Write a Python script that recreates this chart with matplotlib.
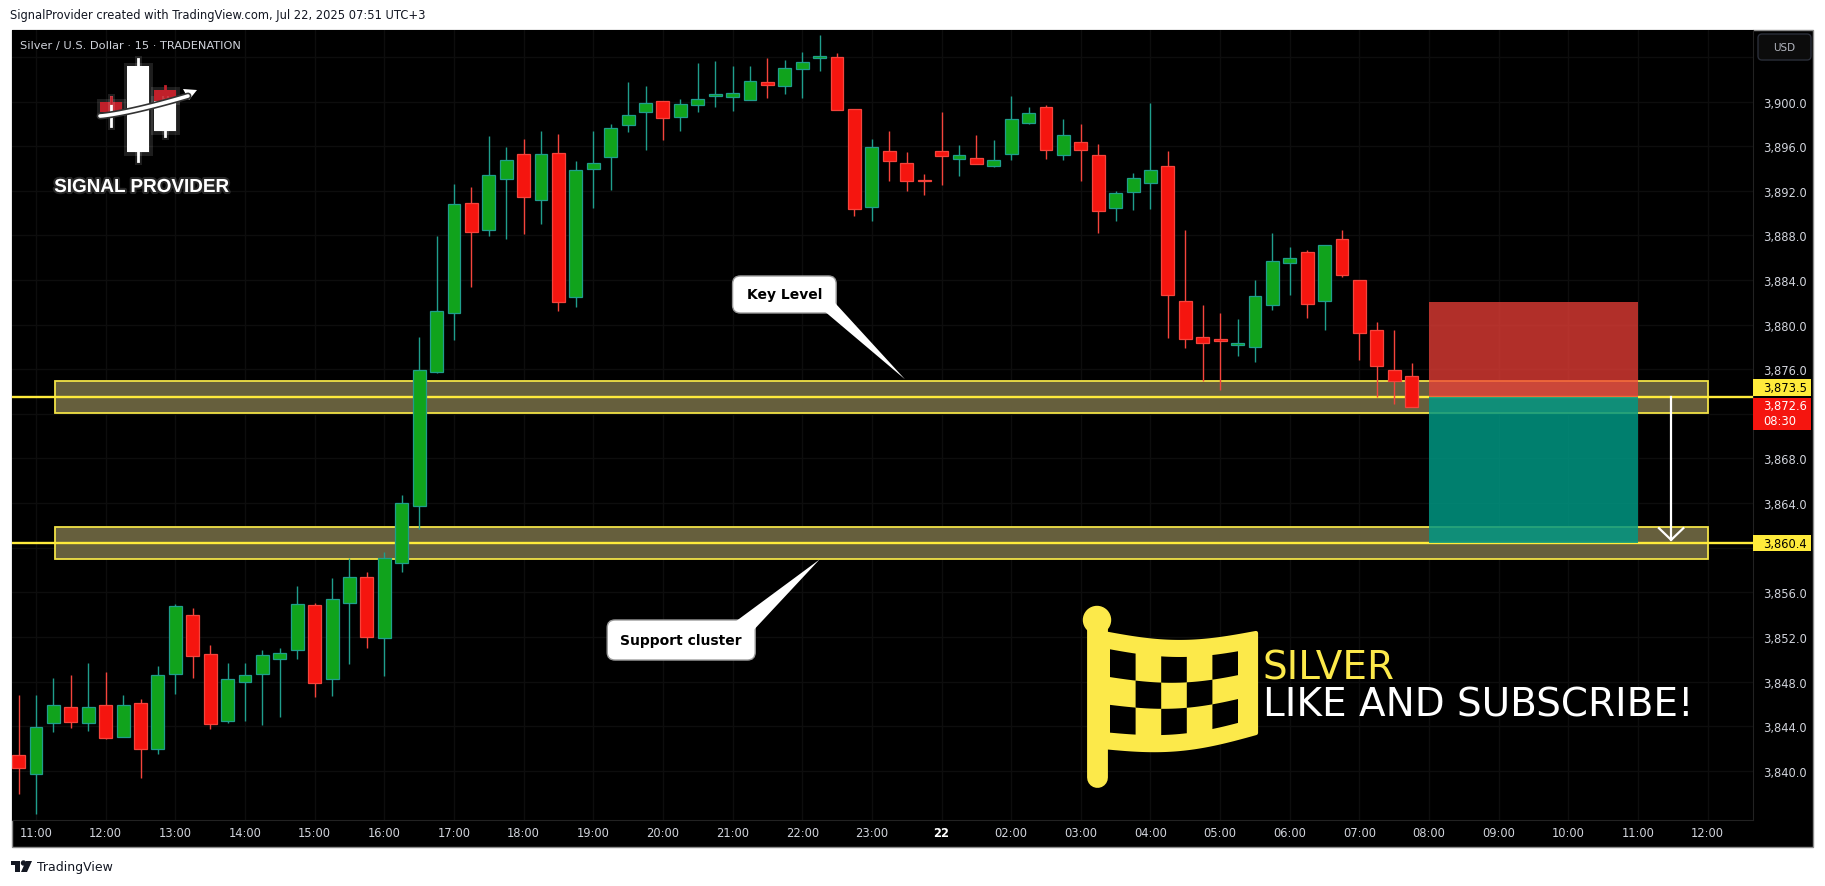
import numpy as np
import matplotlib
matplotlib.use("Agg")
import matplotlib.pyplot as plt
import matplotlib.patheffects as pe
import matplotlib.transforms as mtransforms
from matplotlib.patches import Rectangle, FancyBboxPatch, Polygon, Circle
from matplotlib.ticker import FixedLocator, FuncFormatter

plt.rcParams['font.family'] = ['DejaVu Sans']

# XAG/USD 15 min candles, 10:45 (Jul 21) -> 07:45 (Jul 22)
opens = [3841.45, 3839.67, 3844.29, 3845.73, 3844.29, 3845.92, 3843.07, 3846.08, 3841.98, 3848.67,
         3853.93, 3850.45, 3844.45, 3847.95, 3848.67, 3850.02, 3850.83, 3854.83, 3848.23, 3855.08,
         3857.33, 3851.89, 3858.65, 3863.74, 3875.79, 3881.00, 3890.86, 3888.48, 3893.02, 3895.25,
         3891.15, 3895.41, 3882.50, 3893.91, 3895.06, 3897.89, 3899.03, 3900.05, 3898.62, 3899.67,
         3900.50, 3900.43, 3900.14, 3901.74, 3901.39, 3902.91, 3903.87, 3903.96, 3899.30, 3890.51,
         3895.53, 3894.46, 3893.00, 3895.53, 3894.88, 3894.91, 3894.19, 3895.26, 3898.10, 3899.48,
         3895.17, 3896.34, 3895.17, 3890.42, 3891.92, 3892.66, 3894.22, 3882.09, 3878.86, 3878.68,
         3878.20, 3877.96, 3881.73, 3885.49, 3886.48, 3882.09, 3887.64, 3883.97, 3879.49, 3875.90,
         3875.36]
highs = [3846.80, 3846.80, 3848.36, 3848.61, 3849.67, 3848.89, 3846.80, 3846.48, 3849.42, 3854.93,
         3854.58, 3851.30, 3849.67, 3849.67, 3850.80, 3851.02, 3856.61, 3855.08, 3857.27, 3859.12,
         3857.80, 3859.59, 3864.74, 3878.85, 3887.97, 3892.61, 3892.32, 3896.87, 3895.88, 3896.68,
         3897.32, 3897.06, 3894.71, 3897.32, 3897.98, 3901.77, 3901.39, 3900.05, 3900.24, 3903.42,
         3903.61, 3903.17, 3903.17, 3903.90, 3903.74, 3904.44, 3905.96, 3904.35, 3899.30, 3896.64,
         3897.36, 3895.44, 3893.47, 3899.03, 3896.10, 3897.00, 3896.55, 3900.49, 3899.51, 3899.69,
         3898.43, 3897.95, 3896.16, 3891.95, 3893.59, 3899.87, 3895.56, 3888.48, 3881.76, 3881.04,
         3880.50, 3884.00, 3888.21, 3886.93, 3886.69, 3887.11, 3888.48, 3884.00, 3880.20, 3879.52,
         3876.56]
lows = [3837.95, 3836.16, 3843.45, 3843.83, 3843.58, 3842.86, 3843.00, 3839.38, 3841.48, 3846.86,
        3848.30, 3843.73, 3844.29, 3844.45, 3844.11, 3844.83, 3849.99, 3846.61, 3846.67, 3849.55,
        3851.02, 3848.52, 3857.83, 3861.65, 3875.70, 3878.65, 3883.36, 3887.97, 3887.65, 3888.09,
        3888.98, 3881.23, 3881.58, 3890.48, 3892.10, 3897.25, 3895.66, 3896.55, 3897.35, 3899.03,
        3899.48, 3899.16, 3900.10, 3900.27, 3900.65, 3900.27, 3902.76, 3899.20, 3889.77, 3889.32,
        3892.90, 3892.01, 3891.65, 3892.54, 3893.35, 3894.40, 3894.10, 3894.79, 3897.98, 3894.88,
        3894.79, 3892.90, 3888.24, 3889.32, 3890.30, 3890.33, 3878.83, 3877.93, 3874.97, 3874.17,
        3877.21, 3876.68, 3881.34, 3882.68, 3880.62, 3879.55, 3884.30, 3876.86, 3873.54, 3872.91,
        3872.58]
closes = [3840.29, 3843.95, 3845.92, 3844.39, 3845.73, 3842.98, 3845.92, 3841.92, 3848.58, 3854.74,
          3850.30, 3844.23, 3848.27, 3848.58, 3850.36, 3850.55, 3854.99, 3847.89, 3855.36, 3857.40,
          3851.99, 3859.12, 3863.99, 3875.94, 3881.26, 3890.80, 3888.29, 3893.37, 3894.80, 3891.40,
          3895.31, 3881.99, 3893.82, 3894.45, 3897.63, 3898.81, 3899.86, 3898.52, 3899.76, 3900.24,
          3900.65, 3900.75, 3901.83, 3901.45, 3902.98, 3903.52, 3904.05, 3899.24, 3890.33, 3895.89,
          3894.64, 3892.84, 3892.85, 3895.14, 3895.17, 3894.43, 3894.73, 3898.40, 3898.94, 3895.62,
          3896.97, 3895.62, 3890.21, 3891.77, 3893.11, 3893.83, 3882.68, 3878.68, 3878.32, 3878.50,
          3878.25, 3882.53, 3885.67, 3885.94, 3881.82, 3887.11, 3884.48, 3879.22, 3876.26, 3874.97,
          3872.60]

time_ticks = [1, 5, 9, 13, 17, 21, 25, 29, 33, 37, 41, 45, 49, 53, 57, 61, 65, 69, 73, 77, 81, 85, 89, 93, 97]
time_labels = ["11:00", "12:00", "13:00", "14:00", "15:00", "16:00", "17:00", "18:00", "19:00",
               "20:00", "21:00", "22:00", "23:00", "22", "02:00", "03:00", "04:00", "05:00",
               "06:00", "07:00", "08:00", "09:00", "10:00", "11:00", "12:00"]
price_ticks = list(range(3840, 3908, 4))
hidden_price_ticks = [3860, 3872, 3904]

key_level = 3873.5
support_level = 3860.4
band_half = 1.43
band_start, band_end = 2.1, 97.0
last_price = 3872.6
countdown = "08:30"
stop_level = 3882.0
tool_start, tool_end = 81.0, 93.0
arrow_bar = 94.9

W, H = 1825, 887
YELLOW = '#ffeb3b'
GREEN, GREEN_EDGE = '#10a31c', '#1f9e8c'
RED, RED_EDGE = '#f5150f', '#f5443c'
LABEL = '#d1d4dc'


def fig_rect(x0, y0, x1, y1):
    return [x0 / W, 1 - y1 / H, (x1 - x0) / W, (y1 - y0) / H]


fig = plt.figure(figsize=(W / 100, H / 100), dpi=100)
fig.patch.set_facecolor('white')

# black chart panel
panel = Rectangle((12 / W, 1 - 848 / H), (1813 - 12) / W, (848 - 31) / H, transform=fig.transFigure,
                  facecolor='black', edgecolor='#8c8c8c', lw=1, zorder=-1)
fig.add_artist(panel)

ax = fig.add_axes(fig_rect(12, 31, 1753, 821))
ax.set_facecolor('black')

x = np.arange(len(opens))
o = np.array(opens)
c = np.array(closes)
up = c >= o
body_col = np.where(up, GREEN, RED)
edge_col = np.where(up, GREEN_EDGE, RED_EDGE)
heights = np.maximum(np.abs(c - o), 0.12)
bottoms = np.minimum(o, c)

ax.vlines(x, lows, highs, colors=edge_col, lw=1, zorder=4)
ax.bar(x, heights, bottom=bottoms, width=0.74, color=body_col, edgecolor=edge_col, linewidth=0.9, zorder=5)

# zones
for lvl in (key_level, support_level):
    ax.add_patch(Rectangle((band_start, lvl - band_half), band_end - band_start, 2 * band_half,
                           facecolor='#665f3d', edgecolor='#f2e246', lw=1.3, zorder=2))
    ax.axhline(lvl, color=YELLOW, lw=1.7, zorder=3)

# short position tool
ax.add_patch(Rectangle((tool_start, key_level), tool_end - tool_start, stop_level - key_level,
                       facecolor='#ef4038', alpha=0.745, lw=0, zorder=6))
ax.add_patch(Rectangle((tool_start, support_level), tool_end - tool_start, key_level - support_level,
                       facecolor='#009884', alpha=0.84, lw=0, zorder=6))

# arrow down to target
ax.plot([arrow_bar, arrow_bar], [key_level, support_level + 0.3], color='white', lw=1.6, zorder=7)
ax.plot([arrow_bar - 0.7, arrow_bar, arrow_bar + 0.7],
        [support_level + 1.35, support_level + 0.3, support_level + 1.35], color='white', lw=1.6, zorder=7)

# callouts
aspect = 1.56
ax.add_patch(FancyBboxPatch((41.0, 3881.04), 5.95, 3.32, boxstyle="round,pad=0,rounding_size=0.45",
                            mutation_aspect=aspect, facecolor='white', edgecolor='#9a9a9a', lw=1, zorder=8))
ax.add_patch(Polygon([(46.2, 3881.3), (46.85, 3882.0), (50.9, 3875.1)], closed=True,
                     facecolor='white', edgecolor='none', zorder=8.5))
ax.text(43.98, 3882.7, "Key Level", ha='center', va='center', fontsize=10, fontweight='bold',
        color='black', zorder=9)

ax.add_patch(FancyBboxPatch((33.8, 3849.93), 8.5, 3.59, boxstyle="round,pad=0,rounding_size=0.45",
                            mutation_aspect=aspect, facecolor='white', edgecolor='#9a9a9a', lw=1, zorder=8))
ax.add_patch(Polygon([(41.1, 3853.3), (42.2, 3852.6), (46.0, 3858.95)], closed=True,
                     facecolor='white', edgecolor='none', zorder=8.5))
ax.text(38.05, 3851.72, "Support cluster", ha='center', va='center', fontsize=10, fontweight='bold',
        color='black', zorder=9)

ax.set_xlim(-0.38, 99.6)
ax.set_ylim(3835.59, 3906.41)

ax.xaxis.set_major_locator(FixedLocator(time_ticks))
ax.set_xticklabels(time_labels)
ax.yaxis.set_major_locator(FixedLocator(price_ticks))
ax.yaxis.set_major_formatter(FuncFormatter(
    lambda v, p: "" if round(v) in hidden_price_ticks else "{:,.1f}".format(v)))
ax.yaxis.tick_right()
ax.tick_params(axis='y', length=0, pad=7.2, labelsize=8.3, labelcolor=LABEL)
ax.tick_params(axis='x', length=0, pad=4.5, labelsize=8.3, labelcolor=LABEL)
for lbl in ax.get_xticklabels():
    if lbl.get_text() == "22":
        lbl.set_fontweight('bold')
        lbl.set_color('white')
ax.grid(True, color='#0d0d0d', lw=1, zorder=0)
for side in ('top', 'left'):
    ax.spines[side].set_visible(False)
for side in ('right', 'bottom'):
    ax.spines[side].set_color('#222222')

# price labels on the axis
trans = mtransforms.blended_transform_factory(ax.transAxes, ax.transData)
bw = 58 / 1741
tx = (1763 - 12) / 1741
ax.add_patch(Rectangle((1.0, 3873.6), bw, 1.52, transform=trans, clip_on=False, facecolor=YELLOW, zorder=10))
ax.text(tx, 3874.36, "{:,.1f}".format(key_level), transform=trans, ha='left', va='center',
        fontsize=8.3, color='black', zorder=11)
ax.add_patch(Rectangle((1.0, 3870.55), bw, 2.87, transform=trans, clip_on=False, facecolor=RED, zorder=10))
ax.text(tx, 3872.79, "{:,.1f}".format(last_price), transform=trans, ha='left', va='center',
        fontsize=8.3, color='white', zorder=11)
ax.text(tx, 3871.36, countdown, transform=trans, ha='left', va='center', fontsize=8.3, color='white', zorder=11)
ax.add_patch(Rectangle((1.0, 3859.70), bw, 1.44, transform=trans, clip_on=False, facecolor=YELLOW, zorder=10))
ax.text(tx, support_level, "{:,.1f}".format(support_level), transform=trans, ha='left', va='center',
        fontsize=8.3, color='black', zorder=11)

# overlay in pixel coordinates for branding
ov = fig.add_axes([0, 0, 1, 1], zorder=5)
ov.set_xlim(0, W)
ov.set_ylim(H, 0)
ov.axis('off')
ov.patch.set_alpha(0)

ov.text(10, 16, "SignalProvider created with TradingView.com, Jul 22, 2025 07:51 UTC+3",
        fontsize=8.3, color='#131722', va='center', ha='left')
ov.text(20, 46, "Silver / U.S. Dollar \u00b7 15 \u00b7 TRADENATION", fontsize=8.2, color=LABEL,
        va='center', ha='left')

# USD button
ov.add_patch(FancyBboxPatch((1758, 35), 53, 26, boxstyle="round,pad=0,rounding_size=4",
                            facecolor='#0c0c0c', edgecolor='#2a2e39', lw=1))
ov.text(1784.5, 48, "USD", fontsize=7.5, color='#b2b5be', ha='center', va='center')

# Signal Provider logo
glow = [pe.Stroke(linewidth=5, foreground='white', alpha=0.12), pe.Normal()]
ov.plot([138, 138], [60, 162], color='white', lw=2, path_effects=glow)
ov.plot([165, 165], [100, 137], color='white', lw=2, path_effects=glow)
ov.plot([111, 111], [98, 127], color='white', lw=2, path_effects=glow)
ov.plot([165, 165], [87, 100], color='#c0202a', lw=2)
ov.plot([111, 111], [98, 104], color='#c0202a', lw=2)
for (bx, by, bwd, bh, col) in [(127, 67, 22, 86, 'white'), (154, 100, 22, 32, 'white'),
                               (100, 103, 22, 10, '#c0202a'), (154, 91, 22, 11, '#c0202a')]:
    ov.add_patch(Rectangle((bx, by), bwd, bh, facecolor=col, edgecolor='none', path_effects=glow))
sw_x = np.linspace(100, 188, 30)
sw_y = 117 - 20 * ((sw_x - 100) / 88) ** 1.3
ov.plot(sw_x, sw_y, color='white', lw=2.6, solid_capstyle='round',
        path_effects=[pe.Stroke(linewidth=5, foreground='#333333'), pe.Normal()])
ov.add_patch(Polygon([(197, 91), (183, 90), (189, 101)], closed=True, facecolor='white', edgecolor='none'))
ov.text(141.5, 193, "SIGNAL PROVIDER", fontsize=13.6, fontweight='bold', color='white',
        family=['Liberation Sans', 'DejaVu Sans'], ha='center', va='baseline',
        path_effects=[pe.withStroke(linewidth=3, foreground='#ffffff', alpha=0.15)])

# checkered flag
FLAG = '#fce94a'
ov.plot([1097, 1097], [630, 778], color=FLAG, lw=15, solid_capstyle='round')
ov.add_patch(Circle((1097, 621), 13.5, color=FLAG))
t = np.linspace(0, 1, 60)
fx = 1103 + 153 * t
top = 634 + 9 * np.sin(np.pi * t)
bot = 748 + 9 * np.sin(np.pi * t) - 14 * t
ov.add_patch(Polygon(np.column_stack([np.r_[fx, fx[::-1]], np.r_[top, bot[::-1]]]), closed=True,
                     facecolor=FLAG, edgecolor=FLAG, lw=3, joinstyle='round'))
cols, rows = 5, 3
x_in0, x_in1 = 1110, 1238
for r in range(rows):
    for k in range(cols):
        if (r + k) % 2:
            continue
        cx = np.linspace(x_in0 + (x_in1 - x_in0) * k / cols, x_in0 + (x_in1 - x_in0) * (k + 1) / cols, 8)
        tt = (cx - 1103) / 153
        ti = 634 + 9 * np.sin(np.pi * tt) + 15
        bi = 748 + 9 * np.sin(np.pi * tt) - 14 * tt - 15
        ya = ti + (bi - ti) * r / rows
        yb = ti + (bi - ti) * (r + 1) / rows
        ov.add_patch(Polygon(np.column_stack([np.r_[cx, cx[::-1]], np.r_[ya, yb[::-1]]]), closed=True,
                             facecolor='black', edgecolor='none'))
ov.text(1263, 680, "SILVER", fontsize=28, color=FLAG, ha='left', va='baseline')
ov.text(1263, 717, "LIKE AND SUBSCRIBE!", fontsize=28, color='white', ha='left', va='baseline')

# TradingView footer
TV = '#131722'
ov.add_patch(Rectangle((11, 862), 9, 4, facecolor=TV))
ov.add_patch(Rectangle((15, 862), 5, 11, facecolor=TV))
ov.add_patch(Circle((23.5, 864), 2, color=TV))
ov.add_patch(Polygon([(26, 862), (32, 862), (27, 873), (21, 873)], closed=True, facecolor=TV))
ov.text(37, 867.5, "TradingView", fontsize=9, color=TV, ha='left', va='center')

fig.savefig("out.png", dpi=100, facecolor=fig.get_facecolor())
